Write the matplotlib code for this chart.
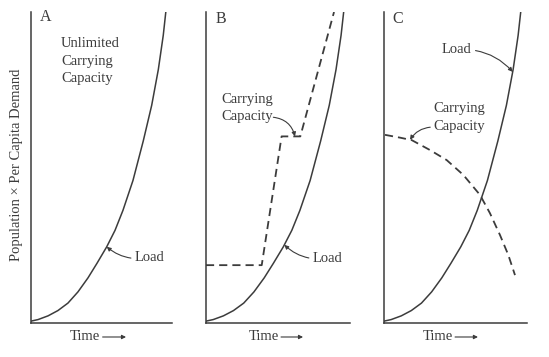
import numpy as np
import matplotlib
matplotlib.use("Agg")
import matplotlib.pyplot as plt

# ---- data (fractions of each panel's axis range) ----
load_x = [0.000, 0.050, 0.121, 0.191, 0.262, 0.333, 0.404, 0.468, 0.537,
          0.596, 0.652, 0.723, 0.796, 0.856, 0.903, 0.938, 0.957]
load_y = [0.006, 0.011, 0.023, 0.040, 0.064, 0.100, 0.145, 0.192, 0.245,
          0.298, 0.362, 0.458, 0.585, 0.700, 0.815, 0.925, 1.004]

capB_x = [0.0, 0.387, 0.525, 0.655, 0.889]
capB_y = [0.186, 0.186, 0.600, 0.600, 1.000]

capC_x = [0.007, 0.112, 0.194, 0.322, 0.438, 0.555, 0.671, 0.741, 0.811, 0.869, 0.916]
capC_y = [0.605, 0.596, 0.588, 0.556, 0.524, 0.476, 0.412, 0.353, 0.283, 0.219, 0.154]

panel_labels = ["A", "B", "C"]

INK = "#3c3c3c"
FONT = "Liberation Serif"
FS = 10.5

fig = plt.figure(figsize=(5.49, 3.57), dpi=100)
H = 357.0
W = 549.0
bottom = (H - 323) / H
height = 311 / H
rects = [(31 / W, bottom, 141 / W, height),
         (206 / W, bottom, 144 / W, height),
         (384 / W, bottom, 143 / W, height)]
axes = [fig.add_axes(r) for r in rects]

for ax in axes:
    ax.set_xlim(0, 1)
    ax.set_ylim(0, 1)
    for s in ["top", "right"]:
        ax.spines[s].set_visible(False)
    for s in ["left", "bottom"]:
        ax.spines[s].set_color(INK)
        ax.spines[s].set_linewidth(1.1)
    ax.set_xticks([])
    ax.set_yticks([])
    ax.patch.set_alpha(0)
    ax.plot(load_x, load_y, color=INK, lw=1.1, solid_joinstyle="round")

def txt(ax, x, y, s, size=FS, **kw):
    ax.text(x, y, s, fontsize=size, family=FONT, color=INK, **kw)

def load_at(x):
    return float(np.interp(x, load_x, load_y))

arrow_kw = dict(arrowstyle="-|>", color=INK, lw=0.8, mutation_scale=6,
                shrinkA=1, shrinkB=0)

# panel letters
letter_pos = [(0.104, 0.983), (0.102, 0.976), (0.098, 0.976)]
for ax, lab, (lx, ly) in zip(axes, panel_labels, letter_pos):
    txt(ax, lx, ly, lab, size=11.5, ha="center", va="center")

# time labels
time_pos = [(0.277, 0.508, 0.674), (0.299, 0.521, 0.674), (0.273, 0.497, 0.657)]
for ax, (tx, a0, a1) in zip(axes, time_pos):
    txt(ax, tx, -0.045, "Time", ha="left", va="center", clip_on=False)
    ax.annotate("", xy=(a1, -0.045), xytext=(a0, -0.045),
                xycoords="axes fraction", textcoords="axes fraction",
                arrowprops=dict(arrowstyle="-|>", color=INK, lw=0.8,
                                mutation_scale=6, shrinkA=0, shrinkB=0),
                annotation_clip=False)

# Panel A
axA, axB, axC = axes
txt(axA, 0.213, 0.842, "Unlimited\nCarrying\nCapacity", ha="left", va="center",
    linespacing=1.42)
axA.annotate("Load", xy=(0.537, load_at(0.537)), xytext=(0.738, 0.212),
             fontsize=FS, family=FONT, color=INK, ha="left", va="center",
             arrowprops=dict(connectionstyle="arc3,rad=-0.25", **arrow_kw))

# Panel B
axB.plot(capB_x, capB_y, color=INK, lw=1.3, linestyle=(0, (4.5, 2.8)))
axB.annotate("Load", xy=(0.544, load_at(0.544)), xytext=(0.743, 0.209),
             fontsize=FS, family=FONT, color=INK, ha="left", va="center",
             arrowprops=dict(connectionstyle="arc3,rad=-0.25", **arrow_kw))
txt(axB, 0.109, 0.691, "Carrying\nCapacity", ha="left", va="center",
    linespacing=1.42)
axB.annotate("", xy=(0.618, float(np.interp(0.618, capB_x, capB_y))),
             xytext=(0.458, 0.662),
             arrowprops=dict(connectionstyle="arc3,rad=-0.35", **arrow_kw))

# Panel C
axC.plot(capC_x, capC_y, color=INK, lw=1.3, linestyle=(0, (4.5, 2.8)))
axC.annotate("Load", xy=(0.900, load_at(0.900)), xytext=(0.403, 0.878),
             fontsize=FS, family=FONT, color=INK, ha="left", va="center",
             arrowprops=dict(connectionstyle="arc3,rad=-0.25", **arrow_kw))
txt(axC, 0.343, 0.661, "Carrying\nCapacity", ha="left", va="center",
    linespacing=1.42)
axC.annotate("", xy=(0.182, float(np.interp(0.182, capC_x, capC_y))),
             xytext=(0.333, 0.630),
             arrowprops=dict(connectionstyle="arc3,rad=0.25", **arrow_kw))

fig.text(17 / W, (H - 165) / H, "Population \u00d7 Per Capita Demand",
         rotation=90, ha="center", va="center", fontsize=FS, family=FONT,
         color=INK)

fig.savefig("out.png", dpi=100, facecolor="white")
